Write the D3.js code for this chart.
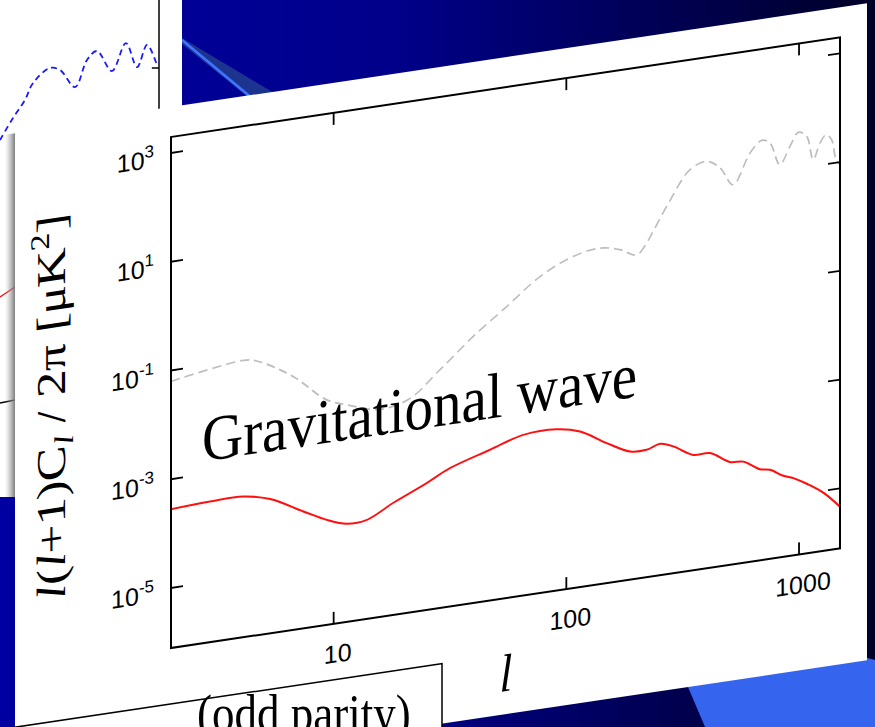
<!DOCTYPE html>
<html><head><meta charset="utf-8">
<script src="https://cdn.jsdelivr.net/npm/d3@7"></script>
<style>html,body{margin:0;padding:0;background:#fff;overflow:hidden}</style>
</head><body>
<svg id="c" width="875" height="727"></svg>
<script>
// ---------- data ----------
// grey dashed: E-mode spectrum
const eeL = [2,4.09,4.67,6.69,9.34,11.4,15.3,18.0,21.9,27.7,31.6,39.8,55.4,77.1,107,140,170,201,221,236,270,340,401,458,522,616,691,750,828,914,993,1079,1151,1231,1306,1381,1442,1500];
const eeV = [0.063,0.097,0.087,0.036,0.0108,0.0077,0.0052,0.0054,0.0072,0.0168,0.027,0.063,0.18,0.52,0.99,1.19,0.98,0.71,1.09,1.72,4.56,18.7,23.9,16.6,7.5,25.9,41,34.8,13.1,26.6,45.8,36.6,13.1,25.4,34.8,27.2,11.3,9.0];
// red: gravitational-wave B-mode spectrum
const bbL = [2,2.94,4.09,5.33,7.41,9.34,11.4,13.9,18.0,25.1,31.6,47.0,65.3,90.9,114.5,149,188,221,253,288,351,414,505,576,679,750,856,945,1079,1271,1500];
const bbV = [2.81e-4,3.05e-4,3.05e-4,2.31e-4,1.11e-4,6.7e-5,5.0e-5,5.2e-5,9.0e-5,1.69e-4,2.75e-4,4.66e-4,7.1e-4,7.3e-4,5.7e-4,2.96e-4,1.79e-4,1.73e-4,2.05e-4,1.69e-4,1.04e-4,1.01e-4,6.1e-5,5.7e-5,3.73e-5,3.4e-5,2.43e-5,2.07e-5,1.5e-5,9.3e-6,4.6e-6];
// ticks
const xTicks = [10,100,1000];
const xTickLabels = ["10","100","1000"];
const yTicks = [1e3,1e1,1e-1,1e-3,1e-5];
const yTickExps = ["3","1","-1","-3","-5"];
// background slide (partly hidden chart behind), in its own 0-100 units
const bgBlueX = [0,8.2,15.7,20.8,31.4,37.7,47.2,54.7,61,70.4,79.2,86.2,92.5,98.7];
const bgBlueY = [12.5,26.3,37.5,48.1,57.5,56.3,45.6,62.5,68.1,55.6,73.1,58.1,71.9,59.4];
const bgRedX = [0,9.4], bgRedY = [-85.6,-79.4];
const bgAxisX = [0,9.4], bgAxisY = [-151.9,-150];

// ---------- drawing ----------
const W=875,H=727;
const serif="'Liberation Serif','Times New Roman',Times,serif";
const sans="'Liberation Sans',Arial,Helvetica,sans-serif";
const svg=d3.select("#c");
const defs=svg.append("defs");

const bgGrad=defs.append("linearGradient").attr("id","bgGrad").attr("x1",0).attr("x2",1).attr("y1",0).attr("y2",0);
bgGrad.append("stop").attr("offset","0%").attr("stop-color","#0000a2");
bgGrad.append("stop").attr("offset","45%").attr("stop-color","#00008a");
bgGrad.append("stop").attr("offset","100%").attr("stop-color","#000028");
svg.append("rect").attr("width",W).attr("height",H).attr("fill","url(#bgGrad)");

// bright blue wedge bottom right
svg.append("polygon").attr("points","651,600 875,660 875,727 705,727").attr("fill","#3565ee");
// diagonal light band top
svg.append("polygon").attr("points","182,38 391,163 330,163 182,44").attr("fill","#1c3490");
svg.append("line").attr("x1",182).attr("y1",40).attr("x2",330).attr("y2",163).attr("stroke","#3f74ff").attr("stroke-width",2.5);

// background chart (white, behind)
svg.append("rect").attr("x",0).attr("y",0).attr("width",182).attr("height",497).attr("fill","#fff");
const bx=d3.scaleLinear().domain([0,100]).range([0,159]);
const by=d3.scaleLinear().domain([0,100]).range([160,0]);
svg.append("line").attr("x1",bx(100)).attr("x2",bx(100)).attr("y1",0).attr("y2",160).attr("stroke","#000").attr("stroke-width",1.5);
svg.append("line").attr("x1",bx(95.5)).attr("x2",bx(100)).attr("y1",68).attr("y2",68).attr("stroke","#000").attr("stroke-width",1.5);
const bline=d3.line().x(d=>bx(d[0])).y(d=>by(d[1])).curve(d3.curveCatmullRom.alpha(0.5));
svg.append("path").attr("d",bline(d3.zip(bgBlueX,bgBlueY))).attr("fill","none").attr("stroke","#1a1aff").attr("stroke-width",1.8).attr("stroke-dasharray","6,4");
svg.append("path").attr("d",d3.line().x(d=>bx(d[0])).y(d=>by(d[1]))(d3.zip(bgRedX,bgRedY))).attr("fill","none").attr("stroke","#ff0000").attr("stroke-width",1.3);
svg.append("path").attr("d",d3.line().x(d=>bx(d[0])).y(d=>by(d[1]))(d3.zip(bgAxisX,bgAxisY))).attr("fill","none").attr("stroke","#000").attr("stroke-width",1.5);

// shear transform for the main panel
const K=0.149, X0=171;
const shear=`matrix(1,${-K},0,1,0,${K*X0})`;

// shadow left of the panel
const shG=defs.append("linearGradient").attr("id","shG").attr("x1",0).attr("x2",1).attr("y1",0).attr("y2",0);
shG.append("stop").attr("offset","0%").attr("stop-color","#aaa").attr("stop-opacity",0);
shG.append("stop").attr("offset","100%").attr("stop-color","#777").attr("stop-opacity",0.95);
defs.append("clipPath").attr("id","shClip").append("rect").attr("x",0).attr("y",0).attr("width",20).attr("height",497);
svg.append("g").attr("clip-path","url(#shClip)").append("g").attr("transform",shear)
  .append("rect").attr("x",5).attr("y",110).attr("width",10).attr("height",700).attr("fill","url(#shG)");

const P=svg.append("g").attr("transform",shear);
P.append("rect").attr("x",15).attr("y",107).attr("width",852).attr("height",657).attr("fill","#fff");

// scales
const x=d3.scaleLog().domain([2,1500]).range([171,840]);
const y=d3.scaleLog().domain([1e-5,1e3]).range([588,153]);
const fx0=171,fx1=840,fy0=137,fy1=648;

defs.append("clipPath").attr("id","plotClip").append("rect").attr("x",fx0).attr("y",fy0).attr("width",fx1-fx0).attr("height",fy1-fy0);
const line=d3.line().x(d=>x(d[0])).y(d=>y(d[1])).curve(d3.curveCatmullRom.alpha(0.5));
const plot=P.append("g").attr("clip-path","url(#plotClip)");
plot.append("path").attr("d",line(d3.zip(eeL,eeV))).attr("fill","none").attr("stroke","#bdbdbd").attr("stroke-width",1.7).attr("stroke-dasharray","9,5");
plot.append("path").attr("d",line(d3.zip(bbL,bbV))).attr("fill","none").attr("stroke","#ff1010").attr("stroke-width",2);

// frame
P.append("rect").attr("x",fx0).attr("y",fy0).attr("width",fx1-fx0).attr("height",fy1-fy0).attr("fill","none").attr("stroke","#000").attr("stroke-width",2);
const TL=12;
yTicks.forEach((t,i)=>{
  P.append("line").attr("x1",fx0).attr("x2",fx0+TL).attr("y1",y(t)).attr("y2",y(t)).attr("stroke","#000").attr("stroke-width",1.8);
  P.append("line").attr("x1",fx1).attr("x2",fx1-TL).attr("y1",y(t)).attr("y2",y(t)).attr("stroke","#000").attr("stroke-width",1.8);
  const tx=P.append("text").attr("x",154).attr("y",y(t)+12).attr("text-anchor","end").attr("font-family",sans).attr("font-size",25).attr("fill","#000").text("10");
  tx.append("tspan").attr("dy",-11).attr("font-size",17).text(yTickExps[i]);
});
xTicks.forEach((t,i)=>{
  P.append("line").attr("x1",x(t)).attr("x2",x(t)).attr("y1",fy1).attr("y2",fy1-TL).attr("stroke","#000").attr("stroke-width",1.8);
  P.append("line").attr("x1",x(t)).attr("x2",x(t)).attr("y1",fy0).attr("y2",fy0+TL).attr("stroke","#000").attr("stroke-width",1.8);
  P.append("text").attr("x",x(t)+4).attr("y",687).attr("text-anchor","middle").attr("font-family",sans).attr("font-size",25).attr("fill","#000").text(xTickLabels[i]);
});

// y-axis title
const yt=P.append("text").attr("font-family",serif).attr("font-size",41).attr("text-anchor","middle").attr("fill","#000");
yt.append("tspan").attr("font-style","italic").text("l");
yt.append("tspan").text("(");
yt.append("tspan").attr("font-style","italic").text("l");
yt.append("tspan").text("+1)C");
yt.append("tspan").attr("font-style","italic").attr("font-size",27).attr("dy",8).text("l");
yt.append("tspan").attr("dy",-8).text(" / 2\u03c0 [\u03bcK");
yt.append("tspan").attr("font-size",27).attr("dy",-16).text("2");
yt.append("tspan").attr("dy",16).text("]");
const yl=yt.node().getComputedTextLength();
yt.attr("transform",`translate(65,389.5) rotate(-90) scale(${385/yl},1)`);

// x-axis title
P.append("text").attr("font-family",serif).attr("font-style","italic").attr("font-size",46).attr("text-anchor","middle")
  .attr("transform","translate(506,741) scale(1,1.15)").text("l");

// annotation
const gw=P.append("text").attr("font-family",serif).attr("font-size",57).attr("fill","#000").text("Gravitational wave");
const gl=gw.node().getComputedTextLength();
gw.attr("transform",`translate(202,466) scale(${435/gl},1.13)`);

// front box (odd parity)
P.append("rect").attr("x",15).attr("y",704).attr("width",427).attr("height",140).attr("fill","#fff").attr("stroke","#000").attr("stroke-width",1.5);
svg.append("text").attr("font-family",serif).attr("font-size",45).attr("fill","#000")
  .attr("transform","translate(197,731) scale(1,1.15)").text("(odd parity)");
</script>
</body></html>
